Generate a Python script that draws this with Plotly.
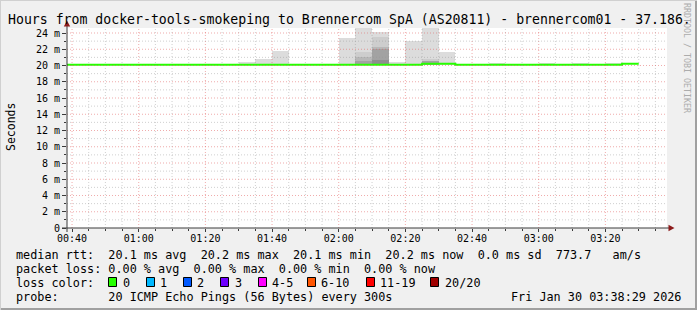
import plotly.graph_objects as go
import pandas as pd

# ---------------- data ----------------
interval_start = pd.date_range("2026-01-30 00:35", periods=35, freq="5min")

median_ms = [20.1, 20.1, 20.1, 20.1, 20.1, 20.1, 20.1, 20.1, 20.1, 20.1,
             20.1, 20.1, 20.1, 20.1, 20.1, 20.1, 20.1, 20.1, 20.1, 20.1,
             20.1, 20.1, 20.2, 20.2, 20.1, 20.1, 20.1, 20.1, 20.1, 20.1,
             20.1, 20.1, 20.1, 20.1, 20.2]

smoke_l1 = [None, None, None, None, None, None, None, None, None, None,
            None, 20.4, 20.8, 21.8, None, None, None, 23.4, 24.6, 24.1,
            20.4, 23.0, 24.7, 21.7, None, None, 20.35, None, None, 20.35,
            None, 20.35, None, 20.35, None]
smoke_l2 = [None, None, None, None, None, None, None, None, None, None,
            None, None, None, None, None, None, None, None, 21.7, 23.5,
            None, None, 20.8, None, None, None, None, None, None, None,
            None, None, None, None, None]
smoke_l3 = [None, None, None, None, None, None, None, None, None, None,
            None, None, None, None, None, None, None, None, 21.1, 22.3,
            None, None, None, None, None, None, None, None, None, None,
            None, None, None, None, None]
smoke_l4 = [None, None, None, None, None, None, None, None, None, None,
            None, None, None, None, None, None, None, None, 20.6, 22.0,
            None, None, 20.5, None, None, None, None, None, None, None,
            None, None, None, None, None]
smoke_l5 = [None, None, None, None, None, None, None, None, None, None,
            None, None, None, None, None, None, None, None, None, 20.7,
            None, None, None, None, None, None, None, None, None, None,
            None, None, None, None, None]
smoke_base_ms = 20.05

y_tick_ms = [0, 2, 4, 6, 8, 10, 12, 14, 16, 18, 20, 22, 24]
y_tick_text = ["0", "2 m", "4 m", "6 m", "8 m", "10 m", "12 m", "14 m",
               "16 m", "18 m", "20 m", "22 m", "24 m"]

title_text = "Hours from docker-tools-smokeping to Brennercom SpA (AS20811) - brennercom01 - 37.186."
line_rtt = "median rtt:  20.1 ms avg  20.2 ms max  20.1 ms min  20.2 ms now  0.0 ms sd  773.7   am/s"
line_loss = "packet loss: 0.00 % avg  0.00 % max  0.00 % min  0.00 % now"
line_probe = "probe:       20 ICMP Echo Pings (56 Bytes) every 300s"
date_text = "Fri Jan 30 03:38:29 2026"
loss_labels = ["0", "1", "2", "3", "4-5", "6-10", "11-19", "20/20"]
loss_colors = ["#26ff00", "#00b8ff", "#0059ff", "#6e00ff", "#ff00ff",
               "#ff5500", "#ff0000", "#a00000"]

# ---------------- layout geometry ----------------
W, H = 697, 310
PL, PR, PT, PB = 67, 667, 28, 228
MONO = "DejaVu Sans Mono"


def px_x(p):
    return (p - PL) / (PR - PL)


def px_y(p):
    return (PB - p) / (PB - PT)


def nb(s):
    return s.replace(" ", "\u00a0")


fig = go.Figure()

half = pd.Timedelta(minutes=2.5)
centers = [t + half for t in interval_start]
smoke_colors = ["#dcdcdc", "#cdcdcd", "#b8b8b8", "#a2a2a2", "#8e8e8e"]
for lvl, col in zip([smoke_l1, smoke_l2, smoke_l3, smoke_l4, smoke_l5], smoke_colors):
    fig.add_trace(go.Bar(
        x=centers,
        y=[(v - smoke_base_ms) / 1000 if v is not None else None for v in lvl],
        base=smoke_base_ms / 1000,
        width=300000,
        marker=dict(color=col, line=dict(width=0)),
        hoverinfo="skip", showlegend=False,
    ))

# median step line
mx = list(interval_start) + [interval_start[-1] + pd.Timedelta(minutes=5)]
my = [v / 1000 for v in median_ms] + [median_ms[-1] / 1000]
fig.add_trace(go.Scatter(
    x=mx, y=my, mode="lines", line=dict(color="#26ff00", width=2, shape="hv"),
    hoverinfo="skip", showlegend=False,
))

shapes = []
# grid (drawn above like rrdtool)
grid_times = pd.date_range("2026-01-30 00:40", "2026-01-30 03:35", freq="5min")
for t in grid_times:
    major = (t.minute % 20 == 0)
    shapes.append(dict(
        type="line", xref="x", yref="paper", x0=t, x1=t, y0=0, y1=1,
        line=dict(color="rgba(225,90,90,0.5)" if major else "rgba(150,150,150,0.45)",
                  width=1, dash="1px,2px"),
        layer="above"))
for m in range(1, 25):
    major = (m % 2 == 0)
    shapes.append(dict(
        type="line", xref="paper", yref="y", x0=0, x1=1, y0=m / 1000, y1=m / 1000,
        line=dict(color="rgba(225,90,90,0.5)" if major else "rgba(150,150,150,0.45)",
                  width=1, dash="1px,2px"),
        layer="above"))

# axes lines and arrows
axis_col = "#3a3a3a"
arrow_col = "#8c1a1a"
shapes.append(dict(type="line", xref="paper", yref="paper",
                   x0=px_x(62), x1=px_x(670), y0=px_y(228), y1=px_y(228),
                   line=dict(color=axis_col, width=1), layer="above"))
shapes.append(dict(type="line", xref="paper", yref="paper",
                   x0=px_x(67), x1=px_x(67), y0=px_y(232), y1=px_y(24),
                   line=dict(color=axis_col, width=1), layer="above"))
shapes.append(dict(type="path", xref="paper", yref="paper",
                   path=f"M {px_x(67)} {px_y(20.5)} L {px_x(63.8)} {px_y(26.5)} L {px_x(70.2)} {px_y(26.5)} Z",
                   fillcolor=arrow_col, line=dict(width=0), layer="above"))
shapes.append(dict(type="path", xref="paper", yref="paper",
                   path=f"M {px_x(674.5)} {px_y(228)} L {px_x(668.5)} {px_y(224.8)} L {px_x(668.5)} {px_y(231.2)} Z",
                   fillcolor=arrow_col, line=dict(width=0), layer="above"))

# outer frame shading
shapes.append(dict(type="line", xref="paper", yref="paper",
                   x0=px_x(0), x1=px_x(697), y0=px_y(309), y1=px_y(309),
                   line=dict(color="#a0a0a0", width=2)))
shapes.append(dict(type="line", xref="paper", yref="paper",
                   x0=px_x(696), x1=px_x(696), y0=px_y(0), y1=px_y(310),
                   line=dict(color="#a0a0a0", width=2)))
shapes.append(dict(type="line", xref="paper", yref="paper",
                   x0=px_x(0), x1=px_x(697), y0=px_y(0.5), y1=px_y(0.5),
                   line=dict(color="#d0d0d0", width=1)))
shapes.append(dict(type="line", xref="paper", yref="paper",
                   x0=px_x(0.5), x1=px_x(0.5), y0=px_y(0), y1=px_y(310),
                   line=dict(color="#d0d0d0", width=1)))

# loss colour boxes
box_x = [108, 146, 183, 220, 258, 307, 366, 430]
label_x = [123, 160, 197, 235, 272, 321, 380, 445]
for bx, col in zip(box_x, loss_colors):
    shapes.append(dict(type="rect", xref="paper", yref="paper",
                       x0=px_x(bx + 0.5), x1=px_x(bx + 8.5), y0=px_y(277.5), y1=px_y(286.5),
                       fillcolor=col, line=dict(color="#000000", width=1)))

annotations = []
PAD = 2  # annotation inner padding compensation


def txt(text, x, y, size=11.8, anchor="left", color="#000000", angle=0, font=MONO):
    if anchor == "left":
        x -= PAD
    elif anchor == "right":
        x += PAD
    annotations.append(dict(
        text=nb(text), x=px_x(x), y=px_y(y), xref="paper", yref="paper",
        xanchor=anchor, yanchor="middle", showarrow=False, textangle=angle,
        font=dict(family=font, size=size, color=color)))


txt(title_text, 8, 20, size=13.2)
txt(line_rtt, 16, 254.5)
txt(line_loss, 16, 268.5)
txt("loss color:", 16, 282.5)
for lx, lab in zip(label_x, loss_labels):
    txt(lab, lx, 282.5)
txt(line_probe, 16, 297)
txt(date_text, 681, 297, anchor="right")
txt("Seconds", 11, 127, size=11.5, anchor="center", angle=-90)
txt("RRDTOOL / TOBI OETIKER", 687, 58, size=8.3, anchor="center",
    color="#acacac", angle=90)

fig.update_layout(
    width=W, height=H,
    margin=dict(l=PL, r=W - PR, t=PT, b=H - PB, pad=0),
    paper_bgcolor="#f0f0f0", plot_bgcolor="#ffffff",
    barmode="overlay", bargap=0,
    shapes=shapes, annotations=annotations,
    showlegend=False,
    xaxis=dict(
        type="date",
        range=["2026-01-30 00:38:29", "2026-01-30 03:38:29"],
        tick0="2026-01-30 00:40", dtick=1200000, tickformat="%H:%M",
        showgrid=False, zeroline=False, showline=False,
        ticks="outside", ticklen=3, tickcolor=axis_col, tickwidth=1,
        ticklabelstandoff=-2,
        tickfont=dict(family=MONO, size=10, color="#000000"),
        minor=dict(tick0="2026-01-30 00:40", dtick=300000, ticks="outside",
                   ticklen=2, tickcolor=axis_col, showgrid=False),
        fixedrange=True,
    ),
    yaxis=dict(
        range=[0, 0.024615],
        tickvals=[v / 1000 for v in y_tick_ms], ticktext=y_tick_text,
        showgrid=False, zeroline=False, showline=False,
        ticks="outside", ticklen=4, tickcolor=axis_col, tickwidth=1,
        tickfont=dict(family=MONO, size=10, color="#000000"),
        minor=dict(dtick=0.001, tick0=0, ticks="outside", ticklen=2,
                   tickcolor=axis_col, showgrid=False),
        fixedrange=True,
    ),
)

fig.write_html("out.html", config={"displayModeBar": False})
